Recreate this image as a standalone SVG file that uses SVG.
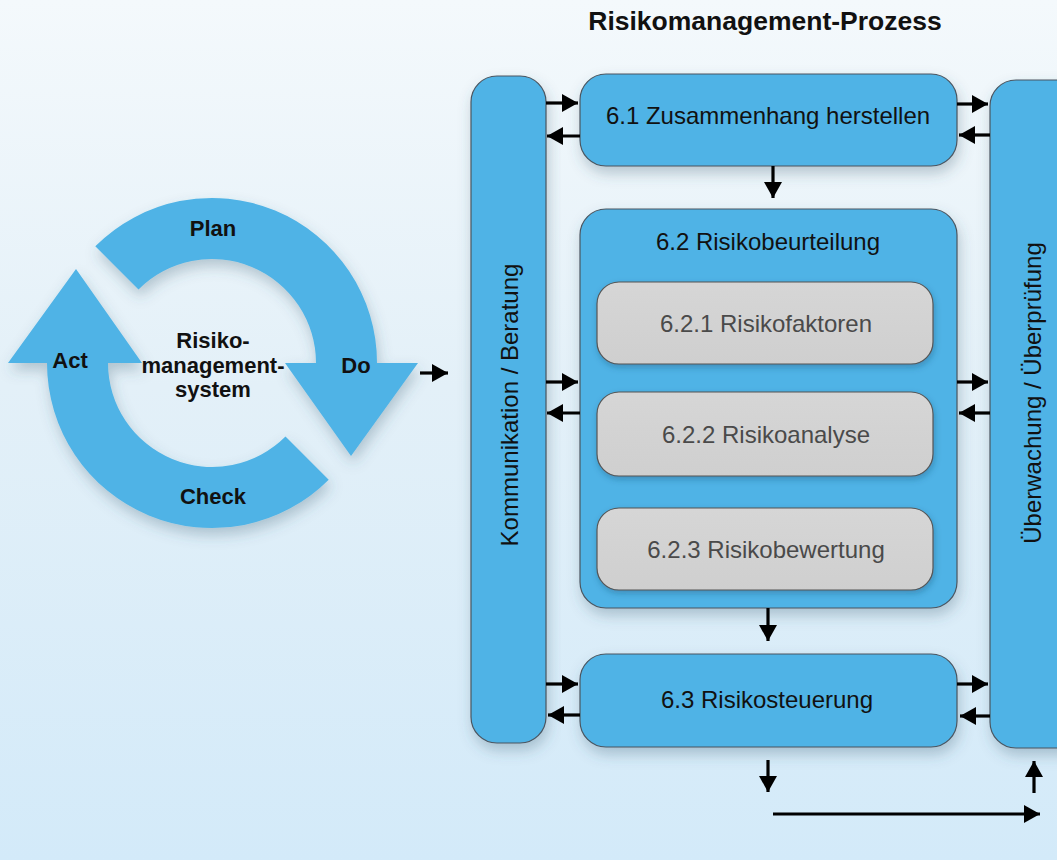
<svg xmlns="http://www.w3.org/2000/svg" width="1057" height="860" viewBox="0 0 1057 860">
<defs>
<linearGradient id="bg" x1="0" y1="0" x2="0" y2="1">
<stop offset="0" stop-color="#f4f9fc"/>
<stop offset="0.45" stop-color="#e3f0f8"/>
<stop offset="1" stop-color="#d3eaf9"/>
</linearGradient>
<linearGradient id="grey" x1="0" y1="0" x2="0" y2="1">
<stop offset="0" stop-color="#d6d6d6"/>
<stop offset="1" stop-color="#cfcfcf"/>
</linearGradient>
<filter id="sh" x="-20%" y="-20%" width="140%" height="150%">
<feDropShadow dx="2" dy="7" stdDeviation="7" flood-color="#3a5a70" flood-opacity="0.3"/>
</filter>
<filter id="sh2" x="-20%" y="-20%" width="140%" height="150%">
<feDropShadow dx="1" dy="3" stdDeviation="3" flood-color="#1a4a6a" flood-opacity="0.35"/>
</filter>
<marker id="ah" viewBox="0 0 16 18" refX="16" refY="9" markerWidth="16" markerHeight="18" markerUnits="userSpaceOnUse" orient="auto">
<path d="M0,0 L16,9 L0,18 Z" fill="#000"/>
</marker>
<style>
.blue{fill:#4fb3e6;stroke:#4a5560;stroke-width:1.2}
.gbox{fill:url(#grey);stroke:#555;stroke-width:1.2}
.ring{fill:#4fb3e6}
.lbl{font-family:"Liberation Sans",Arial,sans-serif;font-size:24px;fill:#111;text-anchor:middle}
.glbl{font-family:"Liberation Sans",Arial,sans-serif;font-size:24px;fill:#4a4a4a;text-anchor:middle}
.bold{font-family:"Liberation Sans",Arial,sans-serif;font-weight:bold;font-size:22px;fill:#111;text-anchor:middle}
.con{stroke:#000;stroke-width:3.2;fill:none;marker-end:url(#ah)}
</style>
</defs>
<rect width="1057" height="860" fill="url(#bg)"/>

<text x="765" y="30" class="bold" style="font-size:26.5px">Risikomanagement-Prozess</text>

<g id="pdca" filter="url(#sh)">
<path id="plan-do" class="ring" d="M95.3,246.3 A165,165 0 0 1 377,363 L418,363 L351,456 L285,363 L316,363 A104,104 0 0 0 138.5,289.5 Z"/>
<path id="check-act" class="ring" d="M328.7,479.7 A165,165 0 0 1 47,363 L8,363 L76,269 L142,363 L108,363 A104,104 0 0 0 285.5,436.5 Z"/>
</g>
<g id="pdca-labels">
<text x="213" y="236" class="bold">Plan</text>
<text x="70" y="368" class="bold">Act</text>
<text x="356" y="373" class="bold">Do</text>
<text x="213" y="504" class="bold">Check</text>
<text x="213" y="348" class="bold">Risiko-</text>
<text x="213" y="373" class="bold">management-</text>
<text x="213" y="397" class="bold">system</text>
</g>

<g id="kommunikation">
<rect x="471" y="76" width="75" height="667" rx="26" class="blue" filter="url(#sh)"/>
<text class="lbl" transform="translate(518,405) rotate(-90)">Kommunikation / Beratung</text>
</g>

<g id="ueberwachung">
<rect x="990" y="80" width="100" height="668" rx="26" class="blue" filter="url(#sh)"/>
<text class="lbl" transform="translate(1041,393) rotate(-90)">Überwachung / Überprüfung</text>
</g>

<g id="n61">
<rect x="580" y="74" width="377" height="92" rx="26" class="blue" filter="url(#sh)"/>
<text x="768" y="124" class="lbl">6.1 Zusammenhang herstellen</text>
</g>

<g id="n62">
<rect x="580" y="209" width="377" height="399" rx="26" class="blue" filter="url(#sh)"/>
<text x="768" y="250" class="lbl">6.2 Risikobeurteilung</text>
</g>

<g id="n621">
<rect x="597" y="282" width="336" height="82" rx="22" class="gbox" filter="url(#sh2)"/>
<text x="766" y="332" class="glbl">6.2.1 Risikofaktoren</text>
</g>
<g id="n622">
<rect x="597" y="392" width="336" height="84" rx="22" class="gbox" filter="url(#sh2)"/>
<text x="766" y="443" class="glbl">6.2.2 Risikoanalyse</text>
</g>
<g id="n623">
<rect x="597" y="508" width="336" height="82" rx="22" class="gbox" filter="url(#sh2)"/>
<text x="766" y="558" class="glbl">6.2.3 Risikobewertung</text>
</g>

<g id="n63">
<rect x="580" y="654" width="377" height="93" rx="26" class="blue" filter="url(#sh)"/>
<text x="767" y="708" class="lbl">6.3 Risikosteuerung</text>
</g>

<g id="connectors">
<line class="con" x1="420" y1="373" x2="448" y2="373"/>
<line class="con" x1="546" y1="103" x2="578" y2="103"/>
<line class="con" x1="580" y1="136" x2="547" y2="136"/>
<line class="con" x1="546" y1="382" x2="578" y2="382"/>
<line class="con" x1="580" y1="413" x2="547" y2="413"/>
<line class="con" x1="546" y1="684" x2="578" y2="684"/>
<line class="con" x1="580" y1="715" x2="548" y2="715"/>
<line class="con" x1="957" y1="104" x2="988" y2="104"/>
<line class="con" x1="990" y1="135" x2="959" y2="135"/>
<line class="con" x1="957" y1="382" x2="988" y2="382"/>
<line class="con" x1="990" y1="413" x2="959" y2="413"/>
<line class="con" x1="957" y1="684" x2="988" y2="684"/>
<line class="con" x1="990" y1="716" x2="960" y2="716"/>
<line class="con" x1="773" y1="166" x2="773" y2="198"/>
<line class="con" x1="768" y1="608" x2="768" y2="641"/>
<line class="con" x1="768" y1="760" x2="768" y2="792"/>
<line class="con" x1="1034" y1="793" x2="1034" y2="761"/>
<line class="con" x1="773" y1="814" x2="1040" y2="814"/>
</g>
</svg>
